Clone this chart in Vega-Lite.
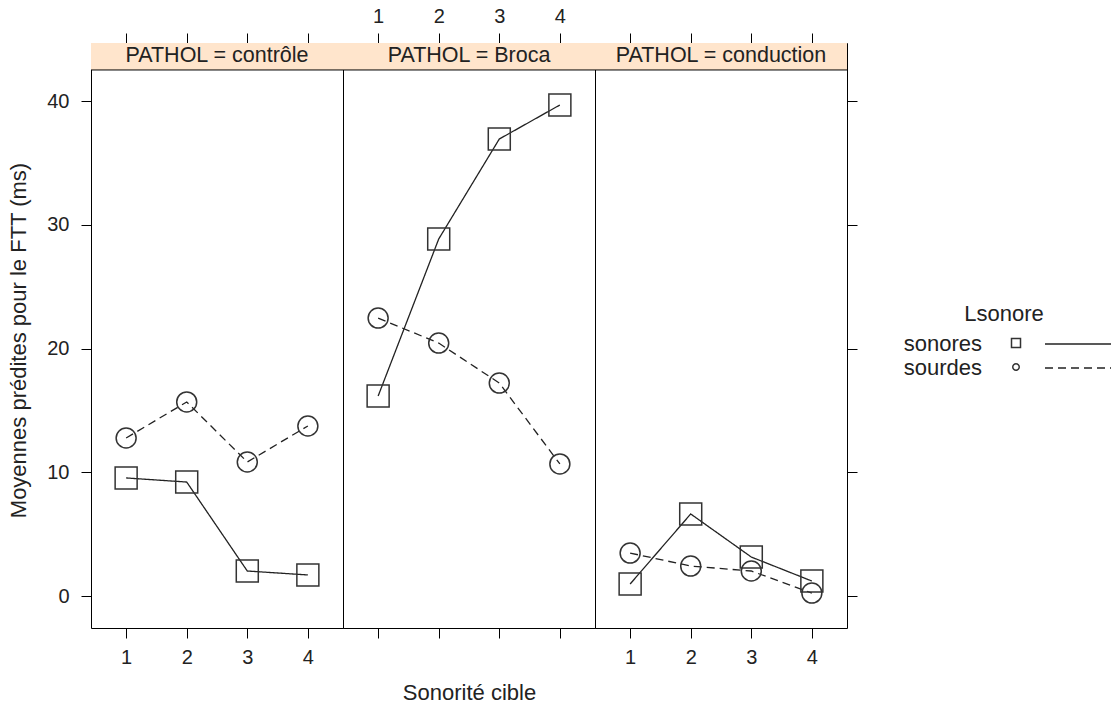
{
  "$schema": "https://vega.github.io/schema/vega-lite/v6.json",
  "background": "white",
  "padding": {"left": 7, "top": 5, "right": 0, "bottom": 0},
  "config": {
    "font": "Liberation Sans",
    "view": {"stroke": "black", "strokeWidth": 1},
    "axis": {"grid": false, "domain": false, "tickColor": "black", "tickSize": 10, "tickWidth": 1, "labelFontSize": 20, "labelColor": "#222", "labelPadding": 9, "titleFontSize": 22, "titleFontWeight": "normal", "titleColor": "#222", "labelFont": "Liberation Sans", "titleFont": "Liberation Sans"}
  },
  "datasets": {
    "ftt": [
      {"PATHOL": "contrôle", "Lsonore": "sonores", "Sonorite": 1, "FTT": 9.54},
      {"PATHOL": "contrôle", "Lsonore": "sonores", "Sonorite": 2, "FTT": 9.21},
      {"PATHOL": "contrôle", "Lsonore": "sonores", "Sonorite": 3, "FTT": 2.02},
      {"PATHOL": "contrôle", "Lsonore": "sonores", "Sonorite": 4, "FTT": 1.70},
      {"PATHOL": "contrôle", "Lsonore": "sourdes", "Sonorite": 1, "FTT": 12.77},
      {"PATHOL": "contrôle", "Lsonore": "sourdes", "Sonorite": 2, "FTT": 15.68},
      {"PATHOL": "contrôle", "Lsonore": "sourdes", "Sonorite": 3, "FTT": 10.83},
      {"PATHOL": "contrôle", "Lsonore": "sourdes", "Sonorite": 4, "FTT": 13.74},
      {"PATHOL": "Broca", "Lsonore": "sonores", "Sonorite": 1, "FTT": 16.16},
      {"PATHOL": "Broca", "Lsonore": "sonores", "Sonorite": 2, "FTT": 28.85},
      {"PATHOL": "Broca", "Lsonore": "sonores", "Sonorite": 3, "FTT": 36.93},
      {"PATHOL": "Broca", "Lsonore": "sonores", "Sonorite": 4, "FTT": 39.68},
      {"PATHOL": "Broca", "Lsonore": "sourdes", "Sonorite": 1, "FTT": 22.46},
      {"PATHOL": "Broca", "Lsonore": "sourdes", "Sonorite": 2, "FTT": 20.44},
      {"PATHOL": "Broca", "Lsonore": "sourdes", "Sonorite": 3, "FTT": 17.21},
      {"PATHOL": "Broca", "Lsonore": "sourdes", "Sonorite": 4, "FTT": 10.67},
      {"PATHOL": "conduction", "Lsonore": "sonores", "Sonorite": 1, "FTT": 0.97},
      {"PATHOL": "conduction", "Lsonore": "sonores", "Sonorite": 2, "FTT": 6.63},
      {"PATHOL": "conduction", "Lsonore": "sonores", "Sonorite": 3, "FTT": 3.15},
      {"PATHOL": "conduction", "Lsonore": "sonores", "Sonorite": 4, "FTT": 1.21},
      {"PATHOL": "conduction", "Lsonore": "sourdes", "Sonorite": 1, "FTT": 3.47},
      {"PATHOL": "conduction", "Lsonore": "sourdes", "Sonorite": 2, "FTT": 2.42},
      {"PATHOL": "conduction", "Lsonore": "sourdes", "Sonorite": 3, "FTT": 2.02},
      {"PATHOL": "conduction", "Lsonore": "sourdes", "Sonorite": 4, "FTT": 0.24}
    ]
  },
  "spacing": 0,
  "bounds": "flush",
  "center": true,
  "hconcat": [
    {
      "width": 252, "height": 585,
      "resolve": {"axis": {"x": "independent", "y": "independent"}},
      "layer": [
        {
          "data": {"values": [{}]},
          "mark": {"type": "rect", "fill": "#FFE5CC"},
          "encoding": {
            "y": {"datum": 42.51, "type": "quantitative", "scale": {"domain": [-2.586, 44.69], "nice": false, "zero": false}, "axis": null},
            "y2": {"datum": 44.69}
          }
        },
        {
          "data": {"values": [{}]},
          "mark": {"type": "rule", "color": "black", "strokeWidth": 1},
          "encoding": {
            "y": {"datum": 42.51, "type": "quantitative", "scale": {"domain": [-2.586, 44.69], "nice": false, "zero": false}, "axis": null}
          }
        },
        {
          "data": {"values": [{}]},
          "mark": {"type": "text", "text": "PATHOL = contrôle", "fontSize": 21.5, "color": "#222", "align": "center", "baseline": "middle"},
          "encoding": {
            "x": {"datum": 2.5, "type": "quantitative", "scale": {"domain": [0.42, 4.58], "nice": false, "zero": false}, "axis": {"orient": "top", "values": [1, 2, 3, 4], "labels": false, "title": null}},
            "y": {"datum": 43.6, "type": "quantitative", "scale": {"domain": [-2.586, 44.69], "nice": false, "zero": false}, "axis": null}
          }
        },
        {
          "data": {"name": "ftt"},
          "transform": [{"filter": "datum.PATHOL === 'contrôle'"}],
          "mark": {"type": "line", "color": "#222", "strokeWidth": 1.3},
          "encoding": {
            "x": {"field": "Sonorite", "type": "quantitative", "scale": {"domain": [0.42, 4.58], "nice": false, "zero": false}, "axis": {"orient": "bottom", "values": [1, 2, 3, 4], "title": null}},
            "y": {"field": "FTT", "type": "quantitative", "scale": {"domain": [-2.586, 44.69], "nice": false, "zero": false}, "axis": {"orient": "left", "values": [0, 10, 20, 30, 40], "title": "Moyennes prédites pour le FTT (ms)", "titlePadding": 16, "labelPadding": 12, "titleY": 297}},
            "strokeDash": {"field": "Lsonore", "type": "nominal", "scale": {"domain": ["sonores", "sourdes"], "range": [[1, 0], [8, 5]]}, "legend": null}
          }
        },
        {
          "data": {"name": "ftt"},
          "transform": [{"filter": "datum.PATHOL === 'contrôle'"}],
          "mark": {"type": "point", "filled": false, "stroke": "#333", "strokeWidth": 1.5, "opacity": 1},
          "encoding": {
            "x": {"field": "Sonorite", "type": "quantitative", "scale": {"domain": [0.42, 4.58], "nice": false, "zero": false}, "axis": null},
            "y": {"field": "FTT", "type": "quantitative", "scale": {"domain": [-2.586, 44.69], "nice": false, "zero": false}, "axis": null},
            "shape": {"field": "Lsonore", "type": "nominal", "scale": {"domain": ["sonores", "sourdes"], "range": ["square", "circle"]}, "legend": null},
            "size": {"field": "Lsonore", "type": "ordinal", "scale": {"domain": ["sonores", "sourdes"], "range": [484, 400]}, "legend": null}
          }
        }
      ]
    },
    {
      "width": 252, "height": 585,
      "resolve": {"axis": {"x": "independent", "y": "independent"}},
      "layer": [
        {
          "data": {"values": [{}]},
          "mark": {"type": "rect", "fill": "#FFE5CC"},
          "encoding": {
            "y": {"datum": 42.51, "type": "quantitative", "scale": {"domain": [-2.586, 44.69], "nice": false, "zero": false}, "axis": null},
            "y2": {"datum": 44.69}
          }
        },
        {
          "data": {"values": [{}]},
          "mark": {"type": "rule", "color": "black", "strokeWidth": 1},
          "encoding": {
            "y": {"datum": 42.51, "type": "quantitative", "scale": {"domain": [-2.586, 44.69], "nice": false, "zero": false}, "axis": null}
          }
        },
        {
          "data": {"values": [{}]},
          "mark": {"type": "text", "text": "PATHOL = Broca", "fontSize": 21.5, "color": "#222", "align": "center", "baseline": "middle"},
          "encoding": {
            "x": {"datum": 2.5, "type": "quantitative", "scale": {"domain": [0.42, 4.58], "nice": false, "zero": false}, "axis": {"orient": "top", "values": [1, 2, 3, 4], "labels": true, "title": null, "labelPadding": 7}},
            "y": {"datum": 43.6, "type": "quantitative", "scale": {"domain": [-2.586, 44.69], "nice": false, "zero": false}, "axis": null}
          }
        },
        {
          "data": {"name": "ftt"},
          "transform": [{"filter": "datum.PATHOL === 'Broca'"}],
          "mark": {"type": "line", "color": "#222", "strokeWidth": 1.3},
          "encoding": {
            "x": {"field": "Sonorite", "type": "quantitative", "scale": {"domain": [0.42, 4.58], "nice": false, "zero": false}, "axis": {"orient": "bottom", "values": [1, 2, 3, 4], "labels": false, "title": "Sonorité cible", "titlePadding": 44}},
            "y": {"field": "FTT", "type": "quantitative", "scale": {"domain": [-2.586, 44.69], "nice": false, "zero": false}, "axis": null},
            "strokeDash": {"field": "Lsonore", "type": "nominal", "scale": {"domain": ["sonores", "sourdes"], "range": [[1, 0], [8, 5]]}, "legend": null}
          }
        },
        {
          "data": {"name": "ftt"},
          "transform": [{"filter": "datum.PATHOL === 'Broca'"}],
          "mark": {"type": "point", "filled": false, "stroke": "#333", "strokeWidth": 1.5, "opacity": 1},
          "encoding": {
            "x": {"field": "Sonorite", "type": "quantitative", "scale": {"domain": [0.42, 4.58], "nice": false, "zero": false}, "axis": null},
            "y": {"field": "FTT", "type": "quantitative", "scale": {"domain": [-2.586, 44.69], "nice": false, "zero": false}, "axis": null},
            "shape": {"field": "Lsonore", "type": "nominal", "scale": {"domain": ["sonores", "sourdes"], "range": ["square", "circle"]}, "legend": null},
            "size": {"field": "Lsonore", "type": "ordinal", "scale": {"domain": ["sonores", "sourdes"], "range": [484, 400]}, "legend": null}
          }
        }
      ]
    },
    {
      "width": 252, "height": 585,
      "resolve": {"axis": {"x": "independent", "y": "independent"}},
      "layer": [
        {
          "data": {"values": [{}]},
          "mark": {"type": "rect", "fill": "#FFE5CC"},
          "encoding": {
            "y": {"datum": 42.51, "type": "quantitative", "scale": {"domain": [-2.586, 44.69], "nice": false, "zero": false}, "axis": null},
            "y2": {"datum": 44.69}
          }
        },
        {
          "data": {"values": [{}]},
          "mark": {"type": "rule", "color": "black", "strokeWidth": 1},
          "encoding": {
            "y": {"datum": 42.51, "type": "quantitative", "scale": {"domain": [-2.586, 44.69], "nice": false, "zero": false}, "axis": null}
          }
        },
        {
          "data": {"values": [{}]},
          "mark": {"type": "text", "text": "PATHOL = conduction", "fontSize": 21.5, "color": "#222", "align": "center", "baseline": "middle"},
          "encoding": {
            "x": {"datum": 2.5, "type": "quantitative", "scale": {"domain": [0.42, 4.58], "nice": false, "zero": false}, "axis": {"orient": "top", "values": [1, 2, 3, 4], "labels": false, "title": null}},
            "y": {"datum": 43.6, "type": "quantitative", "scale": {"domain": [-2.586, 44.69], "nice": false, "zero": false}, "axis": null}
          }
        },
        {
          "data": {"name": "ftt"},
          "transform": [{"filter": "datum.PATHOL === 'conduction'"}],
          "mark": {"type": "line", "color": "#222", "strokeWidth": 1.3},
          "encoding": {
            "x": {"field": "Sonorite", "type": "quantitative", "scale": {"domain": [0.42, 4.58], "nice": false, "zero": false}, "axis": {"orient": "bottom", "values": [1, 2, 3, 4], "title": null}},
            "y": {"field": "FTT", "type": "quantitative", "scale": {"domain": [-2.586, 44.69], "nice": false, "zero": false}, "axis": {"orient": "right", "values": [0, 10, 20, 30, 40], "labels": false, "title": null}},
            "strokeDash": {"field": "Lsonore", "type": "nominal", "scale": {"domain": ["sonores", "sourdes"], "range": [[1, 0], [8, 5]]}, "legend": null}
          }
        },
        {
          "data": {"name": "ftt"},
          "transform": [{"filter": "datum.PATHOL === 'conduction'"}],
          "mark": {"type": "point", "filled": false, "stroke": "#333", "strokeWidth": 1.5, "opacity": 1},
          "encoding": {
            "x": {"field": "Sonorite", "type": "quantitative", "scale": {"domain": [0.42, 4.58], "nice": false, "zero": false}, "axis": null},
            "y": {"field": "FTT", "type": "quantitative", "scale": {"domain": [-2.586, 44.69], "nice": false, "zero": false}, "axis": null},
            "shape": {"field": "Lsonore", "type": "nominal", "scale": {"domain": ["sonores", "sourdes"], "range": ["square", "circle"]}, "legend": null},
            "size": {"field": "Lsonore", "type": "ordinal", "scale": {"domain": ["sonores", "sourdes"], "range": [484, 400]}, "legend": null}
          }
        }
      ]
    },
    {
      "width": 269, "height": 87,
      "view": {"stroke": null},
      "data": {"values": [{}]},
      "layer": [
        {
          "mark": {"type": "text", "text": "Lsonore", "fontSize": 22, "color": "#222", "align": "center", "baseline": "middle"},
          "encoding": {
            "x": {"datum": 157, "type": "quantitative", "scale": {"domain": [0, 269], "nice": false, "zero": false}, "axis": null},
            "y": {"datum": 22, "type": "quantitative", "scale": {"domain": [0, 87], "nice": false, "zero": false, "reverse": true}, "axis": null}
          }
        },
        {
          "mark": {"type": "text", "text": "sonores", "fontSize": 22, "color": "#222", "align": "right", "baseline": "middle"},
          "encoding": {
            "x": {"datum": 135, "type": "quantitative", "scale": {"domain": [0, 269], "nice": false, "zero": false}, "axis": null},
            "y": {"datum": 52, "type": "quantitative", "scale": {"domain": [0, 87], "nice": false, "zero": false, "reverse": true}, "axis": null}
          }
        },
        {
          "mark": {"type": "text", "text": "sourdes", "fontSize": 22, "color": "#222", "align": "right", "baseline": "middle"},
          "encoding": {
            "x": {"datum": 135, "type": "quantitative", "scale": {"domain": [0, 269], "nice": false, "zero": false}, "axis": null},
            "y": {"datum": 76, "type": "quantitative", "scale": {"domain": [0, 87], "nice": false, "zero": false, "reverse": true}, "axis": null}
          }
        },
        {
          "mark": {"type": "point", "shape": "square", "size": 81, "filled": false, "stroke": "#333", "strokeWidth": 1.5, "opacity": 1},
          "encoding": {
            "x": {"datum": 169, "type": "quantitative", "scale": {"domain": [0, 269], "nice": false, "zero": false}, "axis": null},
            "y": {"datum": 51, "type": "quantitative", "scale": {"domain": [0, 87], "nice": false, "zero": false, "reverse": true}, "axis": null}
          }
        },
        {
          "mark": {"type": "point", "shape": "circle", "size": 42, "filled": false, "stroke": "#333", "strokeWidth": 1.5, "opacity": 1},
          "encoding": {
            "x": {"datum": 169, "type": "quantitative", "scale": {"domain": [0, 269], "nice": false, "zero": false}, "axis": null},
            "y": {"datum": 75, "type": "quantitative", "scale": {"domain": [0, 87], "nice": false, "zero": false, "reverse": true}, "axis": null}
          }
        },
        {
          "mark": {"type": "rule", "color": "#222", "strokeWidth": 1.3},
          "encoding": {
            "x": {"datum": 198, "type": "quantitative", "scale": {"domain": [0, 269], "nice": false, "zero": false}, "axis": null},
            "x2": {"datum": 264},
            "y": {"datum": 52, "type": "quantitative", "scale": {"domain": [0, 87], "nice": false, "zero": false, "reverse": true}, "axis": null}
          }
        },
        {
          "mark": {"type": "rule", "color": "#222", "strokeWidth": 1.3, "strokeDash": [8, 5]},
          "encoding": {
            "x": {"datum": 198, "type": "quantitative", "scale": {"domain": [0, 269], "nice": false, "zero": false}, "axis": null},
            "x2": {"datum": 264},
            "y": {"datum": 76, "type": "quantitative", "scale": {"domain": [0, 87], "nice": false, "zero": false, "reverse": true}, "axis": null}
          }
        }
      ]
    }
  ]
}
